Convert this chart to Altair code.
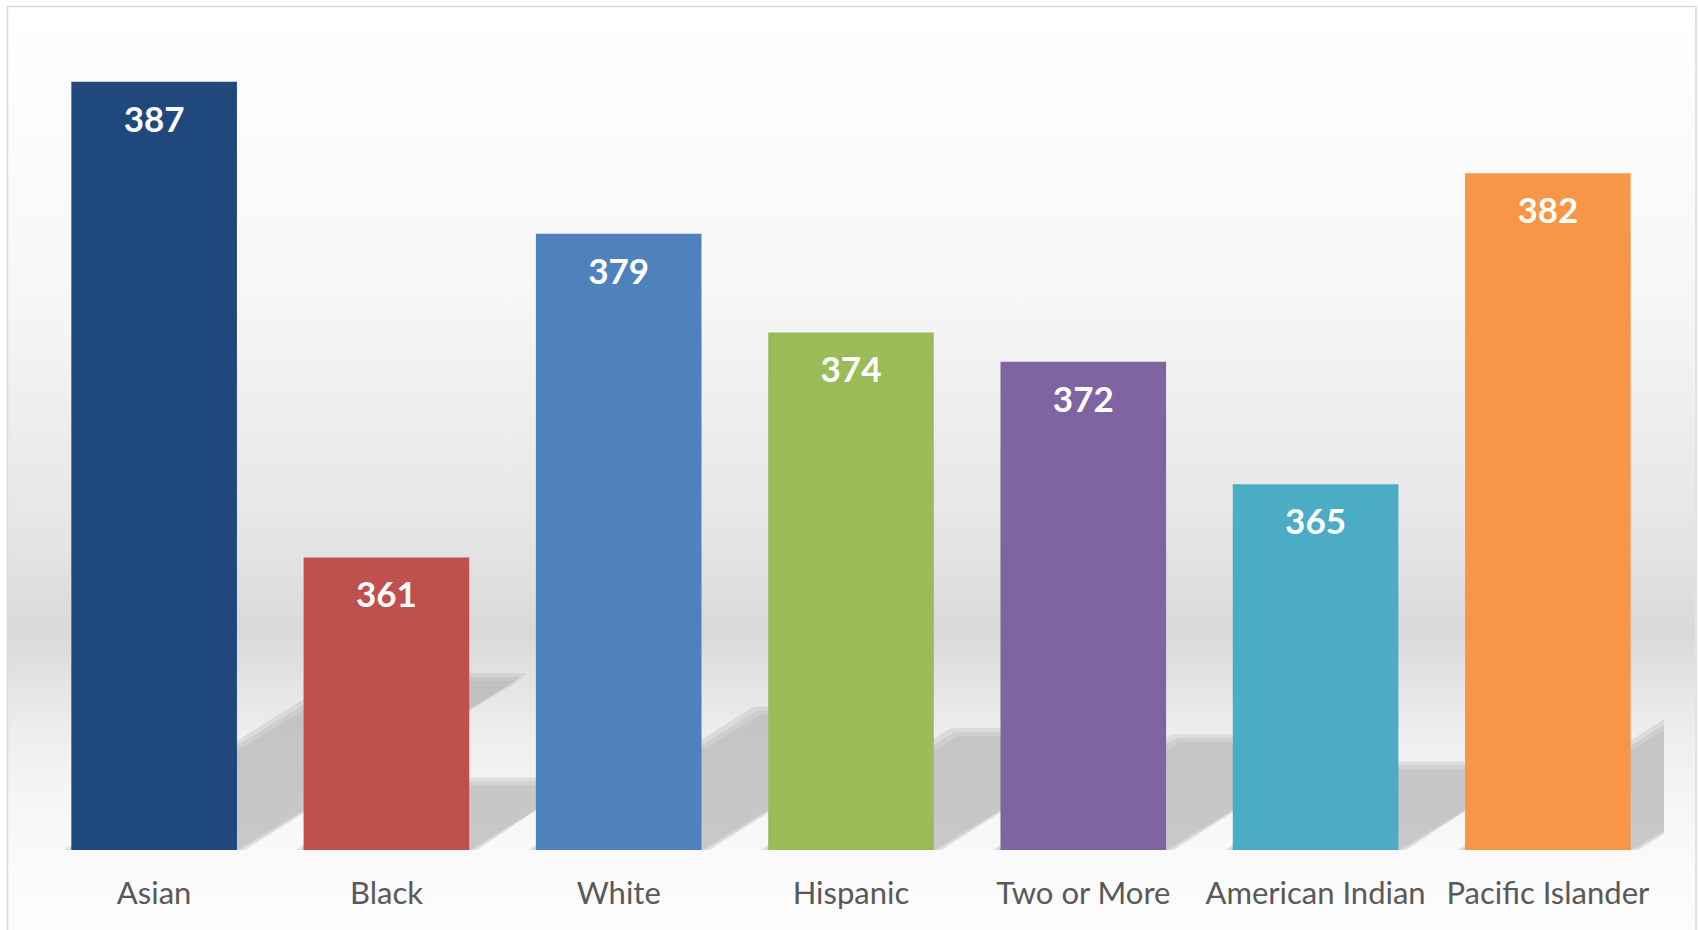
import altair as alt
import pandas as pd

# ---- data ----
categories = ["Asian", "Black", "White", "Hispanic", "Two or More", "American Indian", "Pacific Islander"]
bar_values = [387, 361, 378.7, 373.3, 371.7, 365, 382]
value_labels = ["387", "361", "379", "374", "372", "365", "382"]
colors = ["#1F497D", "#C0504D", "#4F81BD", "#9BBB59", "#8064A2", "#4BACC6", "#F79646"]

AXIS_MIN, AXIS_MAX = 345, 390
W, H = 1626, 823
PAD = 0.287

df = pd.DataFrame({"cat": categories, "score": bar_values, "lab": value_labels})

# perspective floor shadows derived from the bar values (soft edge via stacked layers)
step = W / len(categories)
ppu = H / (AXIS_MAX - AXIS_MIN)
rows = []
for grow in (0.0, 4.0, 8.0):
    g = grow / step  # horizontal growth in band units
    gy = grow / ppu  # vertical growth in value units
    for i, (c, v) in enumerate(zip(categories, bar_values)):
        dy = 0.22 * (v - AXIS_MIN)
        dx = dy * ppu / 0.6 / step
        xl = i + PAD / 2 - g
        xr = i + 1 - PAD / 2 + g
        rows.append({"id": f"{c}{grow}", "sy": AXIS_MIN, "sx": xl, "sx2": xr})
        rows.append({"id": f"{c}{grow}", "sy": AXIS_MIN + dy + gy, "sx": xl + dx, "sx2": xr + dx})
shadow_df = pd.DataFrame(rows)

one = pd.DataFrame({"a": [0]})

bg = alt.Chart(one).mark_rect(
    clip=False,
    fill=alt.Gradient(
        gradient="linear", x1=0, x2=0, y1=0, y2=1,
        stops=[
            alt.GradientStop(color="#ffffff", offset=0),
            alt.GradientStop(color="#f7f7f7", offset=0.3),
            alt.GradientStop(color="#e5e5e5", offset=0.57),
            alt.GradientStop(color="#d9d9d9", offset=0.67),
            alt.GradientStop(color="#eeeeee", offset=0.78),
            alt.GradientStop(color="#f7f7f7", offset=0.87),
            alt.GradientStop(color="#fbfbfb", offset=0.93),
            alt.GradientStop(color="#fcfcfc", offset=1),
        ],
    ),
).encode(x=alt.value(-30), x2=alt.value(1657), y=alt.value(-20), y2=alt.value(912))

border = alt.Chart(one).mark_rect(
    clip=False, fillOpacity=0, stroke="#d9d9d9", strokeWidth=1.5
).encode(x=alt.value(-30.5), x2=alt.value(1658), y=alt.value(-20.5), y2=alt.value(917))

yscale = alt.Scale(domain=[AXIS_MIN, AXIS_MAX], zero=False, nice=False)

shadows = alt.Chart(shadow_df).mark_area(
    orient="horizontal", color="#b0b0b0", opacity=0.3, clip=True
).encode(
    y=alt.Y("sy:Q", scale=yscale, axis=None),
    x=alt.X("sx:Q", scale=alt.Scale(domain=[0, len(categories)], nice=False, zero=False), axis=None),
    x2="sx2:Q",
    detail="id:N",
)

xband = alt.X(
    "cat:N",
    sort=categories,
    scale=alt.Scale(paddingInner=PAD, paddingOuter=PAD / 2),
    axis=alt.Axis(
        title=None, labelAngle=0, labelFont="Lato", labelFontSize=31,
        labelColor="#595959", ticks=False, tickSize=0, domain=False,
        grid=False, labelPadding=29, labelLimit=0, zindex=1,
    ),
)

bars = alt.Chart(df).mark_bar().encode(
    x=xband,
    y=alt.Y("score:Q", scale=yscale, axis=None),
    y2=alt.datum(AXIS_MIN),
    color=alt.Color("cat:N", scale=alt.Scale(domain=categories, range=colors), legend=None),
)

labels = alt.Chart(df).mark_text(
    color="white", font="Lato", fontWeight="bold", fontSize=35, baseline="middle", dy=39
).encode(
    x=alt.X("cat:N", sort=categories, scale=alt.Scale(paddingInner=PAD, paddingOuter=PAD / 2), axis=None),
    y=alt.Y("score:Q", scale=yscale, axis=None),
    text="lab:N",
)

chart = (
    alt.layer(bg, border, shadows, bars, labels)
    .resolve_scale(x="independent")
    .properties(
        width=W, height=H,
        padding={"left": 38, "top": 27, "right": 34, "bottom": 80},
        autosize=alt.AutoSizeParams(type="none"),
        background="white",
    )
    .configure_view(stroke=None)
)

chart.save("out.html", embed_options={"renderer": "svg", "actions": False})
